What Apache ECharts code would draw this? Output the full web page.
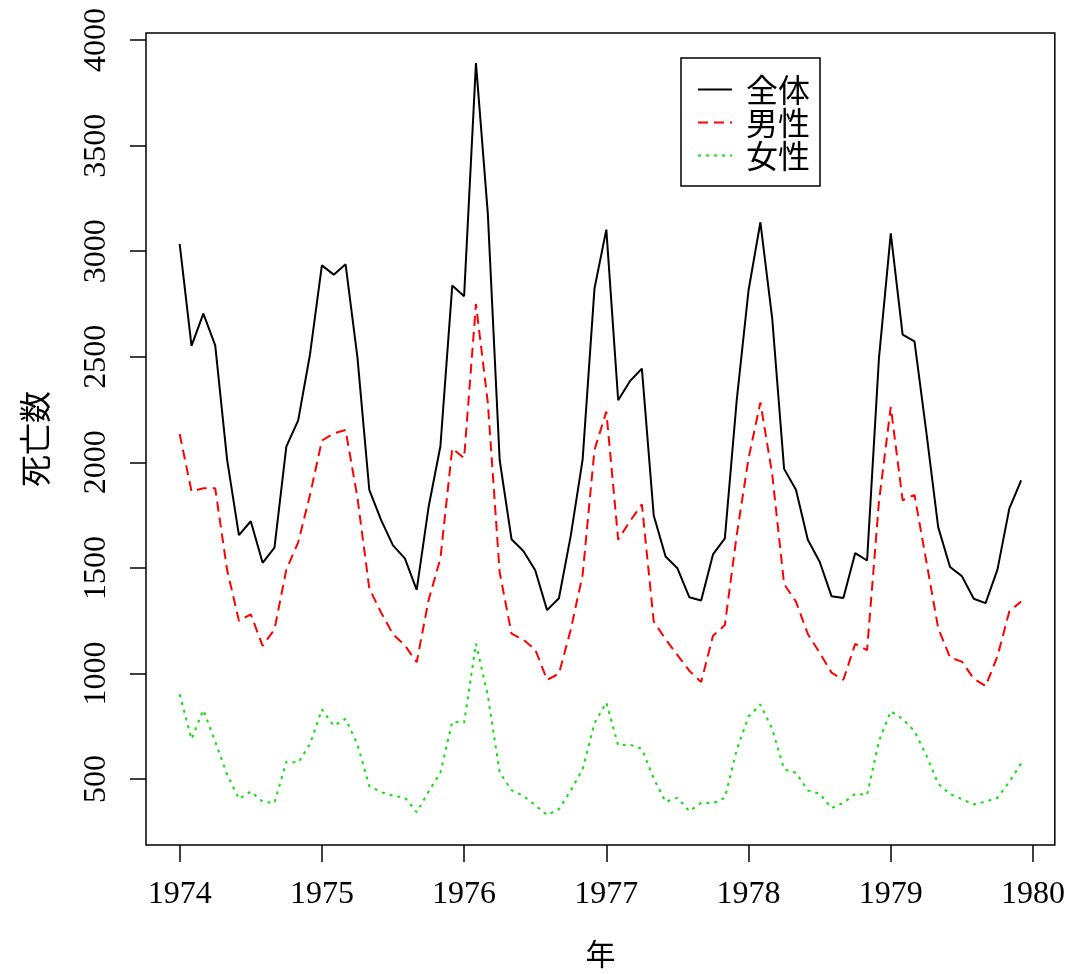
<!DOCTYPE html>
<html>
<head>
<meta charset="utf-8">
<script src="https://cdn.jsdelivr.net/npm/echarts@6/dist/echarts.min.js"></script>
<style>
  html, body { margin: 0; padding: 0; background: #fff; }
  #chart { width: 1068px; height: 974px; }
</style>
</head>
<body>
<div id="chart"></div>
<script>
// 月別の肺疾患死亡数 (1974-1979)
const startYear = 1974
const seriesNames = ['全体', '男性', '女性']
const total = [
  3035, 2552, 2704, 2554, 2014, 1655, 1721, 1524, 1596, 2074, 2199, 2512,
  2933, 2889, 2938, 2497, 1870, 1726, 1607, 1545, 1396, 1787, 2076, 2837,
  2787, 3891, 3179, 2011, 1636, 1580, 1489, 1300, 1356, 1653, 2013, 2823,
  3102, 2294, 2385, 2444, 1748, 1554, 1498, 1361, 1346, 1564, 1640, 2293,
  2815, 3137, 2679, 1969, 1870, 1633, 1529, 1366, 1357, 1570, 1535, 2491,
  3084, 2605, 2573, 2143, 1693, 1504, 1461, 1354, 1333, 1492, 1781, 1915
]
const male = [
  2134, 1863, 1877, 1877, 1492, 1249, 1280, 1131, 1209, 1492, 1621, 1846,
  2103, 2137, 2153, 1833, 1403, 1288, 1186, 1133, 1053, 1347, 1545, 2066,
  2020, 2750, 2283, 1479, 1189, 1160, 1113, 970, 999, 1208, 1467, 2059,
  2240, 1634, 1722, 1801, 1246, 1162, 1087, 1013, 959, 1179, 1229, 1655,
  2019, 2284, 1942, 1423, 1340, 1187, 1098, 1004, 970, 1140, 1110, 1812,
  2263, 1820, 1846, 1531, 1215, 1075, 1056, 975, 940, 1081, 1294, 1341
]
const female = [
  901, 689, 827, 677, 522, 406, 441, 393, 387, 582, 578, 666,
  830, 752, 785, 664, 467, 438, 421, 412, 343, 440, 531, 771,
  767, 1141, 896, 532, 447, 420, 376, 330, 357, 445, 546, 764,
  862, 660, 663, 643, 502, 392, 411, 348, 387, 385, 411, 638,
  796, 853, 737, 546, 530, 446, 431, 362, 387, 430, 425, 679,
  821, 785, 727, 612, 478, 429, 405, 379, 393, 411, 487, 574
]
const xTicks = [1974, 1975, 1976, 1977, 1978, 1979, 1980]
const yTicks = [500, 1000, 1500, 2000, 2500, 3000, 3500, 4000]

// 時系列 -> [年, 値]
const toPairs = arr => arr.map((v, i) => [startYear + i / 12, v])

// R と同じく範囲を 4% 広げる
const all = total.concat(male, female)
const xLo = startYear, xHi = startYear + (total.length - 1) / 12
const yLo = Math.min(...all), yHi = Math.max(...all)
const xPad = (xHi - xLo) * 0.04, yPad = (yHi - yLo) * 0.04

const serif = 'Liberation Serif'
const cjk = 'Noto Sans CJK JP'

const chart = echarts.init(document.getElementById('chart'))
const option = {
  animation: false,
  backgroundColor: '#fff',
  grid: {
    left: 146, top: 33, right: 10, bottom: 128,
    show: true, borderColor: '#000', borderWidth: 1.5
  },
  legend: {
    orient: 'vertical',
    left: 681, top: 58,
    padding: [15, 10, 14, 16],
    itemGap: 0,
    itemWidth: 34,
    itemHeight: 14,
    borderColor: '#000',
    borderWidth: 1.5,
    itemStyle: { opacity: 0 },
    textStyle: { fontFamily: cjk, fontSize: 32, color: '#000', lineHeight: 33, padding: [0, 0, 0, 9] },
    data: seriesNames
  },
  xAxis: {
    type: 'value',
    min: xLo - xPad,
    max: xHi + xPad,
    name: '年',
    nameLocation: 'middle',
    nameGap: 94,
    nameTextStyle: { fontFamily: cjk, fontSize: 30, color: '#000' },
    axisLine: { show: false },
    splitLine: { show: false },
    axisTick: { show: true, length: 17, customValues: xTicks, lineStyle: { color: '#000', width: 1.5 } },
    axisLabel: {
      customValues: xTicks, margin: 34, formatter: v => String(v),
      fontFamily: serif, fontSize: 32, color: '#000'
    }
  },
  yAxis: {
    type: 'value',
    min: yLo - yPad,
    max: yHi + yPad,
    name: '死亡数',
    nameLocation: 'middle',
    nameGap: 95,
    nameTextStyle: { fontFamily: cjk, fontSize: 32, color: '#000' },
    axisLine: { show: false },
    splitLine: { show: false },
    axisTick: { show: true, length: 16, customValues: yTicks, lineStyle: { color: '#000', width: 1.5 } },
    axisLabel: {
      customValues: yTicks, rotate: 90, margin: 33, formatter: v => String(v),
      align: 'center', verticalAlign: 'bottom',
      fontFamily: serif, fontSize: 32, color: '#000'
    }
  },
  series: [
    {
      name: seriesNames[0], type: 'line', data: toPairs(total),
      symbol: 'none', itemStyle: { color: '#000' },
      lineStyle: { color: '#000', width: 2, type: 'solid' }
    },
    {
      name: seriesNames[1], type: 'line', data: toPairs(male),
      symbol: 'none', itemStyle: { color: '#ff0000' },
      lineStyle: { color: '#ff0000', width: 2, type: [10, 6] }
    },
    {
      name: seriesNames[2], type: 'line', data: toPairs(female),
      symbol: 'none', itemStyle: { color: '#11dd11' },
      lineStyle: { color: '#11dd11', width: 2, type: [3, 5] }
    }
  ]
}
chart.setOption(option)
</script>
</body>
</html>
